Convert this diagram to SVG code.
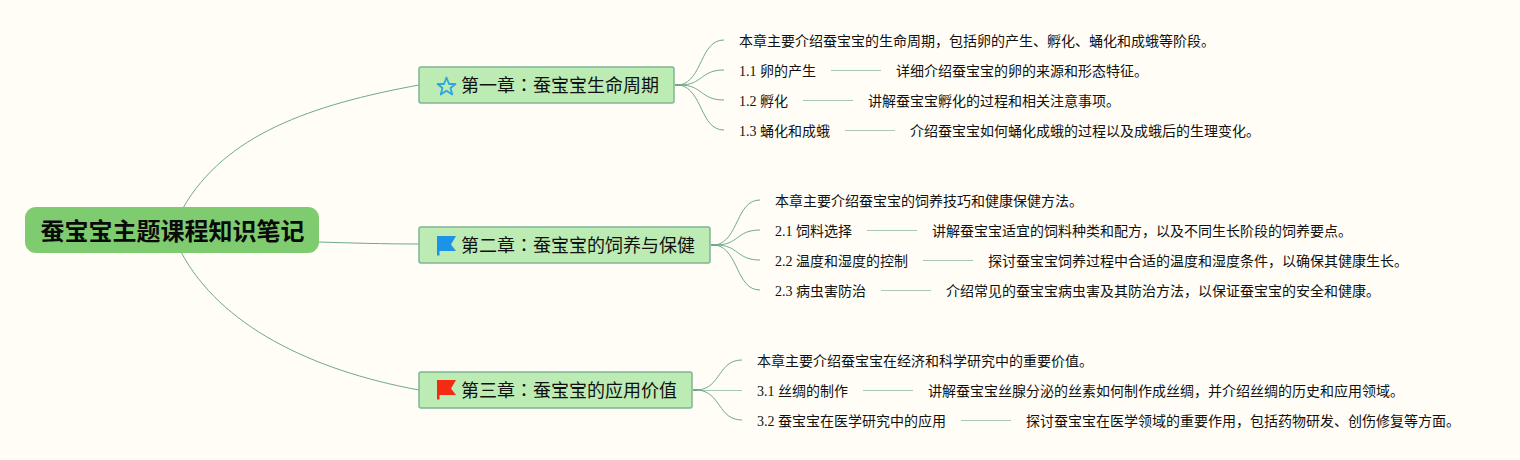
<svg xmlns="http://www.w3.org/2000/svg" width="1520" height="460" viewBox="0 0 1520 460">
<style>
text{font-family:"Liberation Serif","Noto Sans CJK SC",serif;fill:#111}
.r{font-size:24px;font-weight:700;fill:#0a0a0a}
.t{font-size:18px}
.s{font-size:14px}
.k{font-family:"Noto Sans CJK TC",sans-serif}
.rb{fill:#7fcb6f}
.tb{fill:#bcebb4;stroke:#7fb595;stroke-width:1.5}
.c{fill:none;stroke:#6fa98c;stroke-width:1}
.h{fill:none;stroke:#a6c9b0;stroke-width:1}
.stub{fill:none;stroke:#6fa98c;stroke-width:2}
</style>
<rect width="1520" height="460" fill="#fffdf5"/>
<g id="connectors">
<path class="c" d="M183 208C225 135 310 105 419 85"/>
<path class="c" d="M319 242C350 243 385 244 419 244"/>
<path class="c" d="M181 252C220 325 310 370 419 390"/>
<path class="stub" d="M675 85H681"/>
<path class="c" d="M680 85C703 80 700 40 724 40"/>
<path class="c" d="M680 85C703 85 700 70 724 70"/>
<path class="c" d="M680 85C703 85 700 100 724 100"/>
<path class="c" d="M680 85C703 90 700 130 724 130"/>
<path class="stub" d="M711 245H717"/>
<path class="c" d="M716 245C739 240 736 200 760 200"/>
<path class="c" d="M716 245C739 245 736 230 760 230"/>
<path class="c" d="M716 245C739 245 736 260 760 260"/>
<path class="c" d="M716 245C739 250 736 290 760 290"/>
<path class="stub" d="M693 390H699"/>
<path class="c" d="M698 390C721 388 718 360 742 360"/>
<path class="h" d="M698 390.500H742"/>
<path class="c" d="M698 390C721 392 718 420 742 420"/>
<path class="h" d="M831 70.500H881M803 100.500H853M845 130.500H895M867 230.500H917M923 260.500H973M881 290.500H931M863 390.500H913M961 420.500H1011"/>
</g>
<g id="root"><rect class="rb" x="25" y="207" width="294" height="46" rx="11"/><text class="r" x="40.500" y="240">蚕宝宝主题课程知识笔记</text></g>
<g id="ch1"><rect class="tb" x="419" y="67" width="255" height="36" rx="2"/>
<path d="M446.500 77.500L449 84H455.500L450.500 88L452.300 94.500L446.500 90.700L440.700 94.500L442.500 88L437.500 84H444Z" fill="none" stroke="#2ea7dc" stroke-width="1.800" stroke-linejoin="round"/>
<text class="t" x="461" y="92">第一章<tspan class="k">：</tspan>蚕宝宝生命周期</text></g>
<g id="ch2"><rect class="tb" x="419" y="227" width="291" height="36" rx="2"/>
<path d="M437 236H456L451 244.500L456 251H439.500V255.500H437Z" fill="#1c93e6"/>
<text class="t" x="461" y="252">第二章<tspan class="k">：</tspan>蚕宝宝的饲养与保健</text></g>
<g id="ch3"><rect class="tb" x="419" y="372" width="273" height="36" rx="2"/>
<path d="M437 380H456L451 388.500L456 395H439.500V399.500H437Z" fill="#f42a12"/>
<text class="t" x="461" y="397">第三章<tspan class="k">：</tspan>蚕宝宝的应用价值</text></g>
<g id="n1-0"><text class="s" x="739" y="46">本章主要介绍蚕宝宝的生命周期，包括卵的产生、孵化、蛹化和成蛾等阶段。</text></g>
<g id="n1-1"><text class="s" x="739" y="76">1.1 卵的产生</text><text class="s" x="896" y="76">详细介绍蚕宝宝的卵的来源和形态特征。</text></g>
<g id="n1-2"><text class="s" x="739" y="106">1.2 孵化</text><text class="s" x="868" y="106">讲解蚕宝宝孵化的过程和相关注意事项。</text></g>
<g id="n1-3"><text class="s" x="739" y="136">1.3 蛹化和成蛾</text><text class="s" x="910" y="136">介绍蚕宝宝如何蛹化成蛾的过程以及成蛾后的生理变化。</text></g>
<g id="n2-0"><text class="s" x="775" y="206">本章主要介绍蚕宝宝的饲养技巧和健康保健方法。</text></g>
<g id="n2-1"><text class="s" x="775" y="236">2.1 饲料选择</text><text class="s" x="932" y="236">讲解蚕宝宝适宜的饲料种类和配方，以及不同生长阶段的饲养要点。</text></g>
<g id="n2-2"><text class="s" x="775" y="266">2.2 温度和湿度的控制</text><text class="s" x="988" y="266">探讨蚕宝宝饲养过程中合适的温度和湿度条件，以确保其健康生长。</text></g>
<g id="n2-3"><text class="s" x="775" y="296">2.3 病虫害防治</text><text class="s" x="946" y="296">介绍常见的蚕宝宝病虫害及其防治方法，以保证蚕宝宝的安全和健康。</text></g>
<g id="n3-0"><text class="s" x="757" y="366">本章主要介绍蚕宝宝在经济和科学研究中的重要价值。</text></g>
<g id="n3-1"><text class="s" x="757" y="396">3.1 丝绸的制作</text><text class="s" x="928" y="396">讲解蚕宝宝丝腺分泌的丝素如何制作成丝绸，并介绍丝绸的历史和应用领域。</text></g>
<g id="n3-2"><text class="s" x="757" y="426">3.2 蚕宝宝在医学研究中的应用</text><text class="s" x="1026" y="426">探讨蚕宝宝在医学领域的重要作用，包括药物研发、创伤修复等方面。</text></g>
</svg>
